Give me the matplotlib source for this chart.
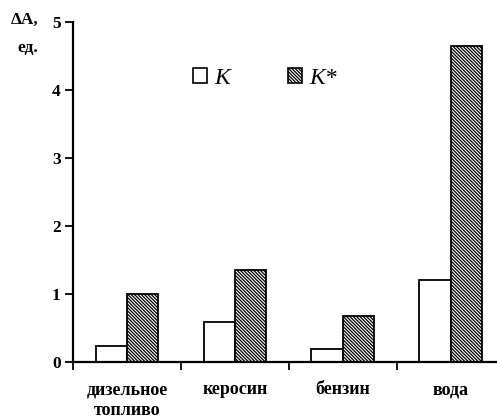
import matplotlib
matplotlib.use("Agg")
import matplotlib.pyplot as plt
from matplotlib.patches import Patch
from matplotlib.font_manager import FontProperties
import numpy as np

categories = ["дизельное\nтопливо", "керосин", "бензин", "вода"]
k_values = [0.23, 0.59, 0.19, 1.21]
kstar_values = [1.00, 1.35, 0.67, 4.65]
yticks = [0, 1, 2, 3, 4, 5]

plt.rcParams['font.family'] = ['Liberation Serif', 'DejaVu Serif']
plt.rcParams['hatch.linewidth'] = 0.9

fig = plt.figure(figsize=(4.97, 4.18), dpi=100)
ax = fig.add_axes([0.147, 0.134, 0.853, 0.813])

hatch = '\\' * 10
x = np.arange(len(categories))
w = 0.29
ax.bar(x - w/2, k_values, w, facecolor='white', edgecolor='black', linewidth=1.3)
ax.bar(x + w/2, kstar_values, w, facecolor='white', edgecolor='black', linewidth=1.3, hatch=hatch)

ax.set_ylim(0, 5)
ax.set_xlim(-0.5, 3.43)
ax.set_yticks(yticks)
ax.set_yticklabels([str(t) for t in yticks], fontsize=12.5, fontweight='bold')
ax.set_xticks(np.arange(-0.5, 3.5, 1.0))
ax.set_xticklabels([])
ax.set_xticks(x, minor=True)
ax.set_xticklabels(categories, minor=True, fontsize=13, fontweight='bold', linespacing=1.3)
ax.tick_params(axis='x', which='minor', length=0, pad=14)
ax.tick_params(axis='x', which='major', length=6, width=1.3, direction='out')
ax.tick_params(axis='y', length=6, width=1.3, direction='out', pad=3)
for s in ['top', 'right']:
    ax.spines[s].set_visible(False)
for s in ['left', 'bottom']:
    ax.spines[s].set_linewidth(1.6)

fig.text(0.022, 0.952, "ΔA,", fontsize=12.5, fontweight='bold', ha='left', va='center')
fig.text(0.035, 0.886, "ед.", fontsize=12.5, fontweight='bold', ha='left', va='center')

handles = [Patch(facecolor='white', edgecolor='black', linewidth=1.2),
           Patch(facecolor='white', edgecolor='black', linewidth=1.2, hatch=hatch)]
prop = FontProperties(family='Liberation Serif', style='italic', size=17)
leg = ax.legend(handles, ["K", "K*"], ncol=2, frameon=False,
                loc='center left', bbox_to_anchor=(0.283, 0.835),
                prop=prop, handlelength=0.6, handleheight=0.6,
                handletextpad=0.3, columnspacing=2.45, borderaxespad=0, borderpad=0)

fig.savefig("out.png", dpi=100)
